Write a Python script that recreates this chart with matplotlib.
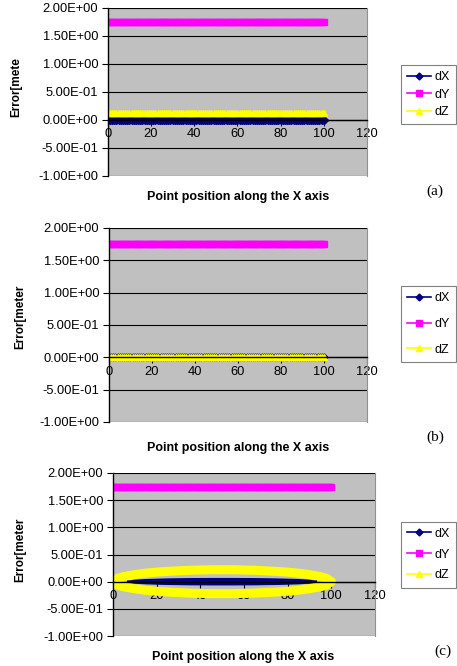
import numpy as np
import matplotlib.pyplot as plt
from matplotlib.lines import Line2D
from matplotlib.ticker import FuncFormatter, MultipleLocator

plt.rcParams['font.family'] = ['Liberation Sans', 'DejaVu Sans']

# point positions along the X axis
x_pos = np.arange(0, 101)

# (a) errors
dx_a = [0.0] * len(x_pos)
dy_a = [1.75] * len(x_pos)
dz_a = [0.13] * len(x_pos)

# (b) errors
dx_b = [0.0] * len(x_pos)
dy_b = [1.75] * len(x_pos)
dz_b = [0.0] * len(x_pos)

# (c) errors: dY flat, dZ / dX spread as an envelope
dy_c = [1.74] * len(x_pos)
x_env = [0, 2, 5, 10, 15, 20, 25, 30, 35, 40, 45, 50, 55, 60, 65, 70, 75, 80, 85, 90, 95, 98, 100]
dz_c_upper = [0.0, 0.06, 0.095, 0.13, 0.157, 0.176, 0.19, 0.20, 0.21, 0.215, 0.22, 0.22,
              0.22, 0.215, 0.21, 0.20, 0.19, 0.176, 0.157, 0.13, 0.095, 0.06, 0.0]
dz_c_lower = [0.0, -0.06, -0.095, -0.13, -0.157, -0.176, -0.19, -0.20, -0.21, -0.215, -0.22, -0.22,
              -0.22, -0.215, -0.21, -0.20, -0.19, -0.176, -0.157, -0.13, -0.095, -0.06, 0.0]
x_spindle = [7, 10, 15, 25, 35, 45, 55, 65, 75, 85, 90, 93]
dx_c_upper = [0.0, 0.018, 0.03, 0.042, 0.048, 0.05, 0.05, 0.048, 0.042, 0.03, 0.018, 0.0]
dx_c_lower = [0.0, -0.018, -0.03, -0.042, -0.048, -0.05, -0.05, -0.048, -0.042, -0.03, -0.018, 0.0]

NAVY = '#000080'
MAGENTA = '#ff00ff'
YELLOW = '#ffff00'

fig = plt.figure(figsize=(4.57, 6.66), dpi=100)


def style_axes(ax):
    ax.set_facecolor('#c0c0c0')
    ax.set_xlim(0, 120)
    ax.set_ylim(-1, 2)
    ax.xaxis.set_major_locator(MultipleLocator(20))
    ax.yaxis.set_major_locator(MultipleLocator(0.5))
    ax.yaxis.set_major_formatter(FuncFormatter(lambda v, p: f"{v:.2E}"))
    ax.grid(axis='y', color='black', lw=0.8)
    ax.set_axisbelow(True)
    ax.spines['bottom'].set_position(('data', 0))
    ax.spines['bottom'].set_linewidth(1)
    ax.spines['left'].set_linewidth(1)
    ax.spines['top'].set_visible(False)
    ax.spines['right'].set_color('#909090')
    ax.tick_params(axis='both', labelsize=9.3, length=4, width=0.8, colors='black')
    ax.tick_params(axis='y', pad=3)
    ax.tick_params(axis='x', pad=2)


def add_legend(cy, spacing):
    handles = [Line2D([], [], color=NAVY, marker='D', markersize=3.5, lw=1.2),
               Line2D([], [], color=MAGENTA, marker='s', markersize=4.5, lw=1.2),
               Line2D([], [], color=YELLOW, marker='^', markersize=5, lw=1.2)]
    leg = fig.legend(handles, ['dX', 'dY', 'dZ'], loc='center', bbox_to_anchor=(0.937, cy),
                     fontsize=9, labelspacing=spacing, handlelength=1.9, handletextpad=0.3,
                     borderpad=0.5, fancybox=False, framealpha=1)
    leg.get_frame().set_edgecolor('#808080')
    leg.get_frame().set_linewidth(0.8)


# panel (a)
ax_a = fig.add_axes([0.236, 0.736, 0.567, 0.252])
style_axes(ax_a)
ax_a.plot(x_pos, dx_a, color=NAVY, marker='D', markersize=4.2, lw=1)
ax_a.plot(x_pos, dy_a, color=MAGENTA, marker='s', markersize=3.8, lw=1)
ax_a.plot(x_pos, dz_a, color=YELLOW, marker='^', markersize=4.8, lw=1)
add_legend(0.858, 0.45)
fig.text(0.035, 0.87, 'Error[mete', rotation=90, fontsize=8.5, fontweight='bold', ha='center', va='center')
fig.text(0.52, 0.704, 'Point position along the X axis', fontsize=9, fontweight='bold', ha='center', va='center')
fig.text(0.952, 0.713, '(a)', family='Liberation Serif', fontsize=11, ha='center', va='center')

# panel (b)
ax_b = fig.add_axes([0.2385, 0.3664, 0.5645, 0.2913])
style_axes(ax_b)
ax_b.plot(x_pos, dx_b, color=NAVY, marker='D', markersize=3.5, lw=1)
ax_b.plot(x_pos, dy_b, color=MAGENTA, marker='s', markersize=4.2, lw=1)
ax_b.plot(x_pos, dz_b, color=YELLOW, marker='^', markersize=4.8, lw=1)
add_legend(0.5135, 1.1)
fig.text(0.045, 0.525, 'Error[meter', rotation=90, fontsize=8.5, fontweight='bold', ha='center', va='center')
fig.text(0.52, 0.327, 'Point position along the X axis', fontsize=9, fontweight='bold', ha='center', va='center')
fig.text(0.952, 0.343, '(b)', family='Liberation Serif', fontsize=11, ha='center', va='center')

# panel (c)
ax_c = fig.add_axes([0.247, 0.045, 0.5733, 0.2448])
style_axes(ax_c)
ax_c.plot(x_pos, dy_c, color=MAGENTA, marker='s', markersize=3.8, lw=1)
ax_c.plot(x_env, dz_c_upper, color=YELLOW, lw=6.5, solid_capstyle='round')
ax_c.plot(x_env, dz_c_lower, color=YELLOW, lw=6.5, solid_capstyle='round')
ax_c.fill_between(x_spindle, dx_c_upper, dx_c_lower, color=NAVY, lw=0)
ax_c.plot(x_spindle, dx_c_upper, color=NAVY, lw=1.5)
ax_c.plot(x_spindle, dx_c_lower, color=NAVY, lw=1.5)
add_legend(0.1674, 0.7)
fig.text(0.045, 0.174, 'Error[meter', rotation=90, fontsize=8.5, fontweight='bold', ha='center', va='center')
fig.text(0.532, 0.014, 'Point position along the X axis', fontsize=9, fontweight='bold', ha='center', va='center')
fig.text(0.97, 0.022, '(c)', family='Liberation Serif', fontsize=11, ha='center', va='center')

fig.savefig('out.png', dpi=100)
